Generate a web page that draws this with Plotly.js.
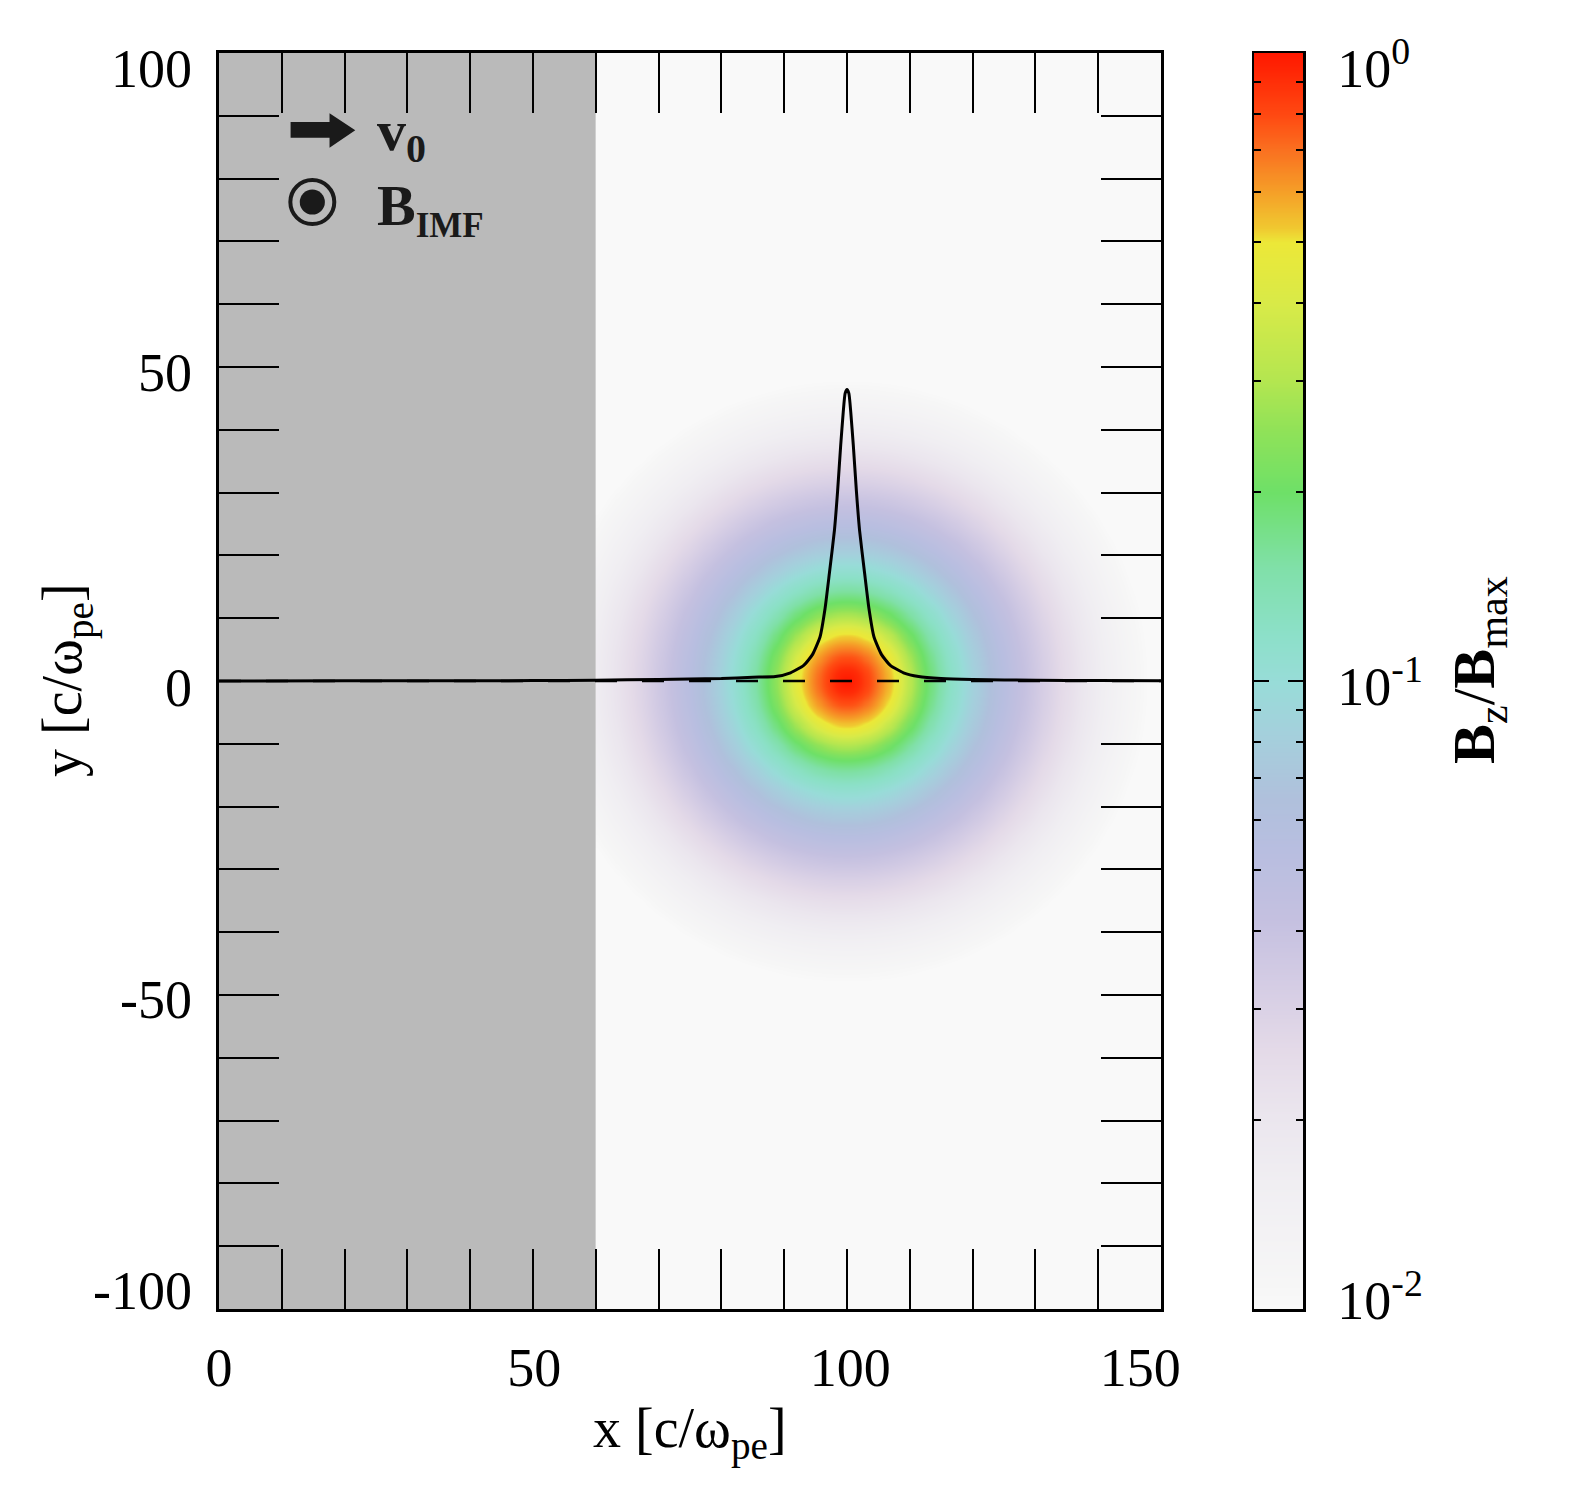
<!DOCTYPE html>
<html>
<head>
<meta charset="utf-8">
<script src="https://cdn.plot.ly/plotly-3.0.1.min.js"></script>
<style>html,body{margin:0;padding:0;background:#fff;}#plot{width:1572px;height:1488px;}</style>
</head>
<body>
<div id="plot"></div>
<script>
// ---- data ----
// radial profile of log10(Bz/Bmax) around the field centre (x=100, y=0)
const profileRadius = [0, 2, 4, 6, 8, 10, 12, 14, 16, 18, 20, 22, 25, 28, 32, 36, 40, 44, 48, 60];
const profileLogB   = [0, -0.04, -0.12, -0.22, -0.33, -0.50, -0.66, -0.78, -0.90, -0.98, -1.07, -1.15, -1.27, -1.38, -1.52, -1.65, -1.78, -1.90, -2.00, -2.20];
const centreX = 100, centreY = 0;
// black profile curve
const curveX = [0, 20, 40, 50, 60, 70, 80, 85, 88.6, 91, 93.1, 94.5, 95.7, 96.5, 97.2, 98.0, 98.5, 99.0, 99.4, 99.7, 100,
                100.3, 100.6, 101.0, 101.5, 102.0, 102.8, 103.5, 104.3, 105.5, 106.9, 109, 111.4, 115, 120, 130, 140, 150];
const curveY = [0.01, 0.02, 0.04, 0.07, 0.12, 0.25, 0.4, 0.6, 0.7, 1.3, 2.5, 4.2, 7.0, 11.5, 17.2, 24.0, 30.2, 37.6, 42.8, 45.8, 46.4,
                45.8, 42.8, 37.6, 30.2, 24.0, 17.2, 11.5, 7.0, 4.2, 2.5, 1.3, 0.7, 0.4, 0.25, 0.12, 0.07, 0.04];
const zeroLineX = [0, 150];
const zeroLineY = [0, 0];
const maskX = [0, 60];           // grey masked region in x
const xTicks = [0, 50, 100, 150];
const xTickText = ['0', '50', '100', '150'];
const yTicks = [-100, -50, 0, 50, 100];
const yTickText = ['-100', '-50', '0', '50', '100'];
const cbRange = [-2, 0];         // log10(Bz/Bmax)
const cbMajorVals = [-1];
const cbTickText = ['10<sup>-2</sup>', '10<sup>-1</sup>', '10<sup>0</sup>'];
const cbMinorVals = [0.02,0.03,0.04,0.05,0.06,0.07,0.08,0.09,0.2,0.3,0.4,0.5,0.6,0.7,0.8,0.9].map(v => Math.log10(v));

// label placement as in the reference (end labels nudged inward)
const xLabelPos = [0, 50.2, 100.5, 146.7];
const yLabelPos = [-97, -50.6, -1, 49.2, 97.6];
const cbLabelPos = [-1.986, -1.008, -0.024];

// ---- build heatmap grid from the radial profile ----
function profileAt(r) {
  if (r >= profileRadius[profileRadius.length - 1]) return profileLogB[profileLogB.length - 1];
  for (let i = 1; i < profileRadius.length; i++) {
    if (r <= profileRadius[i]) {
      const t = (r - profileRadius[i-1]) / (profileRadius[i] - profileRadius[i-1]);
      return profileLogB[i-1] + t * (profileLogB[i] - profileLogB[i-1]);
    }
  }
}
const gx = [], gy = [], gz = [];
for (let x = 60.25; x < 150; x += 0.5) gx.push(x);
for (let y = -99.75; y < 100; y += 0.5) gy.push(y);
for (const y of gy) {
  const row = [];
  for (const x of gx) row.push(profileAt(Math.hypot(x - centreX, y - centreY)));
  gz.push(row);
}
// colour-bar strip
const cbY = [], cbZ = [];
for (let i = 0; i <= 400; i++) { const v = cbRange[0] + (cbRange[1] - cbRange[0]) * i / 400; cbY.push(v); cbZ.push([v, v]); }

const FONT = 'Liberation Serif, Times New Roman, serif';
const colorscale = [
  [0, '#f9f9f9'], [0.02, '#f6f6f6'], [0.10, '#f0eef2'], [0.153, '#ebe6ee'], [0.206, '#e4dae8'],
  [0.26, '#d4cce4'], [0.312, '#c4c0e0'], [0.365, '#b8bee0'], [0.405, '#b0c0dc'], [0.459, '#a4d0dc'],
  [0.499, '#98dcd8'], [0.538, '#8ce0c8'], [0.591, '#80e0a8'], [0.65, '#6ee068'], [0.70, '#90e258'],
  [0.74, '#b4e650'], [0.80, '#d8ea48'], [0.849, '#ece838'], [0.861, '#f0c830'], [0.889, '#f5a028'],
  [0.923, '#fa7020'], [0.95, '#ff4a12'], [1, '#ff1800']
];

const W = 1572, H = 1488;
const mL = 219, mT = 53, mB = H - 1309, mR = W - 1303;
const plotW = W - mL - mR, plotH = H - mT - mB;
const xDomEnd = 942 / plotW;
const cbLeft = (1254 - mL) / plotW;
const px2paperX = px => (px - mL) / plotW;
const px2paperY = py => (H - mB - py) / plotH;

const empty = (xa, ya) => ({type: 'scatter', x: [], y: [], xaxis: xa, yaxis: ya, showlegend: false, hoverinfo: 'skip'});

const traces = [
  { type: 'heatmap', x: gx, y: gy, z: gz, zmin: cbRange[0], zmax: cbRange[1], zsmooth: 'best',
    colorscale: colorscale, hoverinfo: 'skip', showscale: false },
  { type: 'scatter', mode: 'lines', x: zeroLineX, y: zeroLineY,
    line: {color: '#000', width: 2.5, dash: '22px,25px'}, hoverinfo: 'skip', showlegend: false },
  { type: 'scatter', mode: 'lines', x: curveX, y: curveY, line: {color: '#000', width: 3, shape: 'spline', smoothing: 0.5},
    hoverinfo: 'skip', showlegend: false },
  { type: 'heatmap', x: [0.25, 0.75], y: cbY, z: cbZ, zmin: cbRange[0], zmax: cbRange[1], zsmooth: 'best',
    colorscale: colorscale, hoverinfo: 'skip', showscale: false, xaxis: 'x3', yaxis: 'y2' },
  empty('x3', 'y3'), empty('x3', 'y4'), empty('x', 'y7'), empty('x2', 'y')
];

const axCommon = {
  showgrid: false, zeroline: false, showline: true, linecolor: '#000', linewidth: 3,
  mirror: 'allticks', ticks: 'inside', ticklen: 60, tickwidth: 2, tickcolor: '#000',
  showticklabels: false
};
const labelFont = {family: FONT, size: 54, color: '#000'};
const cbTickAxis = (vals, len) => ({
  overlaying: 'y2', anchor: 'x3', side: 'right', range: cbRange, mirror: 'allticks',
  showgrid: false, zeroline: false, showline: false, showticklabels: false,
  ticks: 'inside', ticklen: len, tickwidth: 2, tickcolor: '#000', tickmode: 'array', tickvals: vals
});

const layout = {
  width: W, height: H, margin: {l: mL, r: mR, t: mT, b: mB, pad: 0},
  paper_bgcolor: '#ffffff', plot_bgcolor: '#f9f9f9', showlegend: false,
  font: {family: FONT, color: '#000'},
  xaxis: Object.assign({}, axCommon, {
    domain: [0, xDomEnd], range: [0, 150], tickvals: xTicks,
    minor: {dtick: 10, tick0: 0, ticks: 'inside', ticklen: 30, tickwidth: 2, tickcolor: '#000'}
  }),
  yaxis: Object.assign({}, axCommon, {
    range: [-100, 100], tickvals: yTicks,
    minor: {dtick: 10, tick0: 0, ticks: 'inside', ticklen: 30, tickwidth: 2, tickcolor: '#000'}
  }),
  // tick-label axes of the main panel
  xaxis2: {
    overlaying: 'x', anchor: 'y', side: 'bottom', domain: [0, xDomEnd], range: [0, 150],
    showgrid: false, zeroline: false, showline: false, ticks: '',
    tickmode: 'array', tickvals: xLabelPos, ticktext: xTickText, ticklabelstandoff: 22, tickfont: labelFont
  },
  yaxis7: {
    overlaying: 'y', anchor: 'x', side: 'left', range: [-100, 100],
    showgrid: false, zeroline: false, showline: false, ticks: '',
    tickmode: 'array', tickvals: yLabelPos, ticktext: yTickText, ticklabelstandoff: 26, tickfont: labelFont
  },
  // colour bar panel
  xaxis3: {
    domain: [cbLeft, 1], range: [0, 1], anchor: 'y2', showgrid: false, zeroline: false,
    showline: true, linecolor: '#000', linewidth: 2.5, mirror: true, ticks: '', showticklabels: false
  },
  yaxis2: {
    anchor: 'x3', side: 'right', range: cbRange, domain: [0, 1],
    showgrid: false, zeroline: false, showline: true, linecolor: '#000', linewidth: 2.5, mirror: true, ticks: '',
    tickmode: 'array', tickvals: cbLabelPos, ticktext: cbTickText, ticklabelstandoff: 21, tickfont: labelFont
  },
  yaxis3: cbTickAxis(cbMajorVals, 15),
  yaxis4: cbTickAxis(cbMinorVals, 7),
  shapes: [
    {type: 'rect', xref: 'x', yref: 'y', x0: maskX[0], x1: maskX[1], y0: -100, y1: 100,
     fillcolor: '#bababa', line: {width: 0}, layer: 'below'},
    {type: 'path', xref: 'x', yref: 'y', layer: 'above',
     path: 'M 11.4,86.5 L 17.6,86.5 L 17.6,84.9 L 21.7,87.7 L 17.6,90.4 L 17.6,89.0 L 11.4,89.0 Z',
     fillcolor: '#1a1a1a', line: {width: 0}},
    {type: 'circle', xref: 'x', yref: 'y', layer: 'above',
     x0: 14.86 - 3.5, x1: 14.86 + 3.5, y0: 76.27 - 3.5, y1: 76.27 + 3.5,
     line: {color: '#1a1a1a', width: 4}},
    {type: 'circle', xref: 'x', yref: 'y', layer: 'above',
     x0: 14.86 - 2.0, x1: 14.86 + 2.0, y0: 76.27 - 2.0, y1: 76.27 + 2.0,
     fillcolor: '#1a1a1a', line: {width: 0}}
  ],
  annotations: [
    {xref: 'x', yref: 'y', x: 24.8, y: 87.0, xanchor: 'left', yanchor: 'middle', showarrow: false,
     text: '<b>v<sub><span style="font-size:40px">0</span></sub></b>', font: {family: FONT, size: 58, color: '#1a1a1a'}},
    {xref: 'x', yref: 'y', x: 24.8, y: 75.2, xanchor: 'left', yanchor: 'middle', showarrow: false,
     text: '<b>B<sub><span style="font-size:35px">IMF</span></sub></b>', font: {family: FONT, size: 58, color: '#1a1a1a'}},
    {xref: 'paper', yref: 'paper', x: px2paperX(1478), y: px2paperY(670), xanchor: 'center', yanchor: 'middle',
     textangle: -90, showarrow: false,
     text: '<b>B</b><sub>z</sub>/<b>B</b><sub>max</sub>', font: {family: FONT, size: 60, color: '#000'}},
    {xref: 'paper', yref: 'paper', x: px2paperX(690), y: px2paperY(1432), xanchor: 'center', yanchor: 'middle',
     showarrow: false, text: 'x [c/ω<sub>pe</sub>]', font: {family: FONT, size: 56, color: '#000'}},
    {xref: 'paper', yref: 'paper', x: px2paperX(66), y: px2paperY(680), xanchor: 'center', yanchor: 'middle',
     textangle: -90, showarrow: false, text: 'y [c/ω<sub>pe</sub>]', font: {family: FONT, size: 56, color: '#000'}}
  ]
};

Plotly.newPlot('plot', traces, layout, {staticPlot: true, displayModeBar: false});
</script>
</body>
</html>
